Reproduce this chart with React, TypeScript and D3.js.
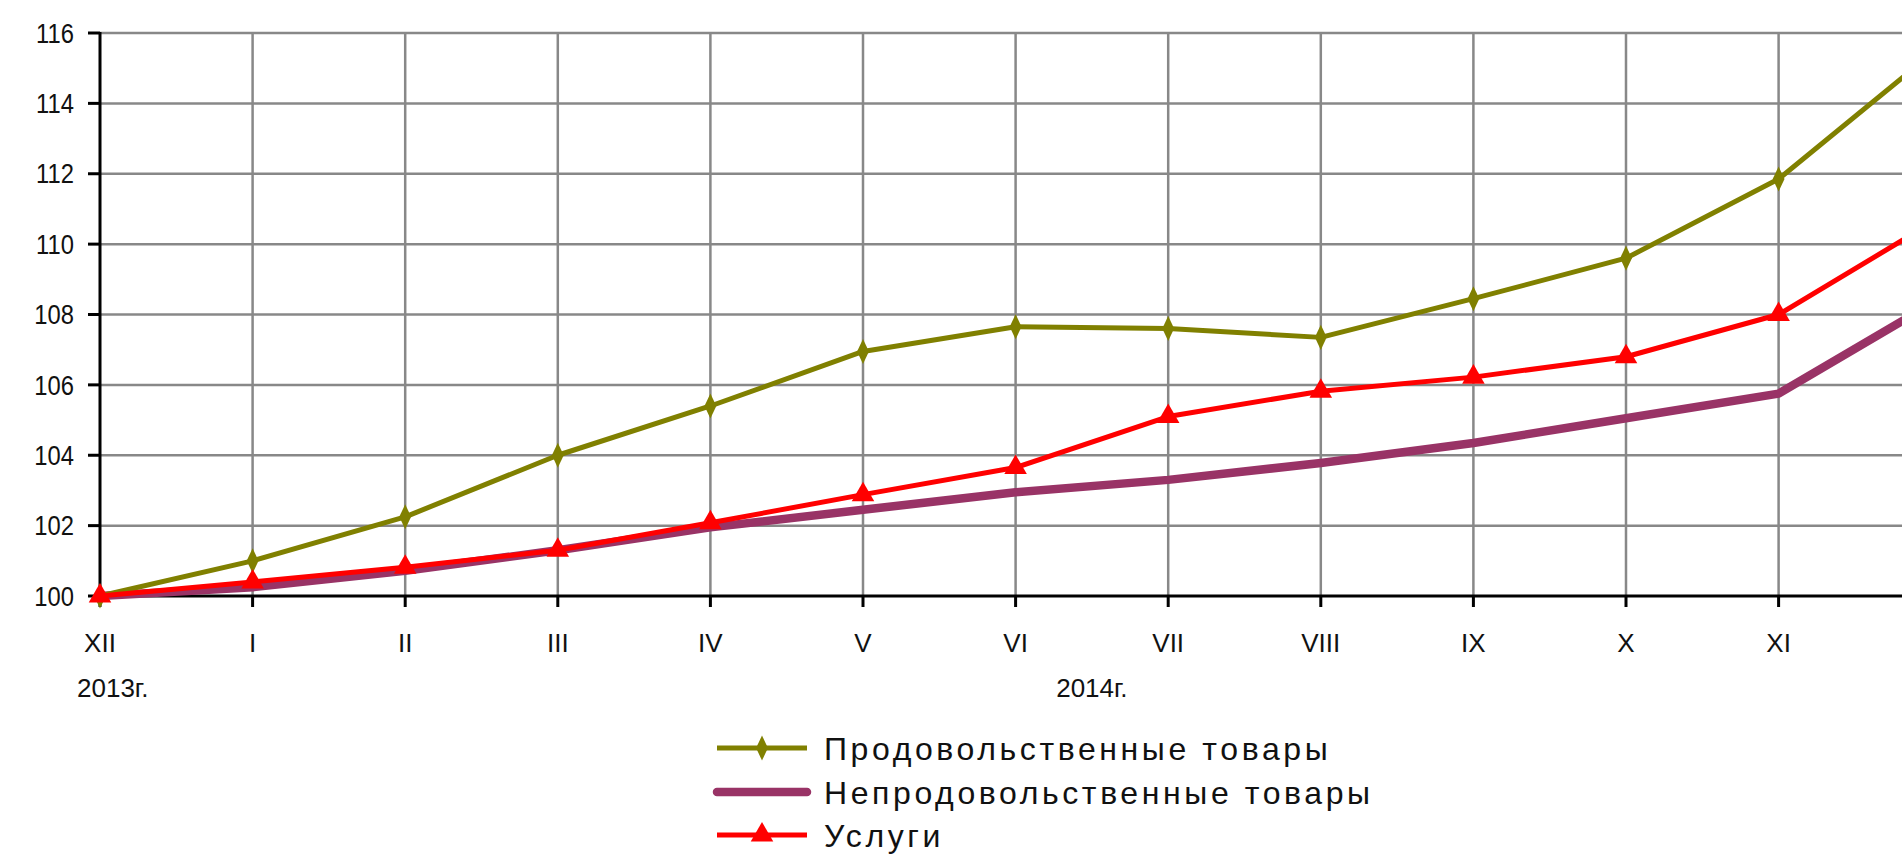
import React from "react";
import * as d3 from "d3";

const months = ["XII", "I", "II", "III", "IV", "V", "VI", "VII", "VIII", "IX", "X", "XI", "XII"];
const foodValues = [100, 101.0, 102.25, 104.0, 105.4, 106.95, 107.65, 107.6, 107.35, 108.45, 109.6, 111.85, 115.4];
const nonFoodValues = [100, 100.25, 100.72, 101.3, 101.95, 102.45, 102.95, 103.3, 103.78, 104.35, 105.05, 105.75, 108.3];
const servicesValues = [100, 100.4, 100.82, 101.3, 102.08, 102.88, 103.65, 105.1, 105.82, 106.22, 106.8, 108.0, 110.6];
const yTicks = [100, 102, 104, 106, 108, 110, 112, 114, 116];
const yearLabels = ["2013г.", "2014г."];
const seriesNames = ["Продовольственные товары", "Непродовольственные товары", "Услуги"];

const W = 1902;
const H = 858;
const FONT = "'Liberation Sans', Arial, sans-serif";

const FOOD = "#808000";
const NONFOOD = "#993366";
const SERV = "#ff0000";

export default function App() {
  const x = d3.scaleLinear().domain([0, 12]).range([100, 100 + 12 * 152.6]);
  const y = d3.scaleLinear().domain([100, 116]).range([596, 33]);
  const idx = months.map((_, i) => i);

  const line = d3
    .line<number>()
    .x((_, i) => x(i))
    .y((v) => y(v));

  const diamond = d3.symbol().type(d3.symbolDiamond).size(150)() as string;
  const triangle = d3.symbol().type(d3.symbolTriangle).size(220)() as string;

  const x0 = x(0);
  const legendRows = [748, 792, 835];

  return (
    <svg
      width={W}
      height={H}
      style={{ position: "absolute", left: 0, top: 0, background: "#fff" }}
      fontFamily={FONT}
    >
      <rect width={W} height={H} fill="#fff" />
      {/* horizontal grid */}
      {yTicks.slice(1).map((t) => (
        <line key={"hg" + t} x1={x0} x2={W} y1={y(t)} y2={y(t)} stroke="#888" strokeWidth={2.5} />
      ))}
      {/* vertical grid */}
      {idx.slice(1).map((i) => (
        <line key={"vg" + i} x1={x(i)} x2={x(i)} y1={y(116)} y2={y(100)} stroke="#888" strokeWidth={2.5} />
      ))}
      {/* axes */}
      <line x1={x0} x2={x0} y1={y(116) - 1} y2={y(100)} stroke="#000" strokeWidth={3} />
      <line x1={x0} x2={W} y1={y(100)} y2={y(100)} stroke="#000" strokeWidth={3} />
      {yTicks.map((t) => (
        <line key={"yt" + t} x1={x0 - 12} x2={x0} y1={y(t)} y2={y(t)} stroke="#000" strokeWidth={3} />
      ))}
      {idx.map((i) => (
        <line key={"xt" + i} x1={x(i)} x2={x(i)} y1={y(100)} y2={y(100) + 11} stroke="#000" strokeWidth={3} />
      ))}
      {/* y labels */}
      {yTicks.map((t) => (
        <text key={"yl" + t} x={74} y={y(t)} dy="0.36em" textAnchor="end" fontSize={27} fill="#111"
          transform={`translate(${74 * 0.12},0) scale(0.88,1)`}>
          {t}
        </text>
      ))}
      {/* x labels (those inside the visible area) */}
      {idx.filter((i) => x(i) + 20 < W).map((i) => (
        <text key={"xl" + i} x={x(i)} y={643} dy="0.36em" textAnchor="middle" fontSize={26} fill="#111">
          {months[i]}
        </text>
      ))}
      <text x={77} y={688} dy="0.36em" fontSize={26} fill="#111">{yearLabels[0]}</text>
      <text x={x(6.5)} y={688} dy="0.36em" textAnchor="middle" fontSize={26} fill="#111">{yearLabels[1]}</text>

      {/* series */}
      <path d={line(nonFoodValues) as string} fill="none" stroke={NONFOOD} strokeWidth={8.5} strokeLinejoin="round" />
      <path d={line(foodValues) as string} fill="none" stroke={FOOD} strokeWidth={5} strokeLinejoin="round" />
      {foodValues.map((v, i) => (
        <path key={"fm" + i} d={diamond} transform={`translate(${x(i)},${y(v)}) scale(0.9,1.1)`} fill={FOOD} />
      ))}
      <path d={line(servicesValues) as string} fill="none" stroke={SERV} strokeWidth={5} strokeLinejoin="round" />
      {servicesValues.map((v, i) => (
        <path key={"sm" + i} d={triangle} transform={`translate(${x(i)},${y(v)})`} fill={SERV} />
      ))}

      {/* legend */}
      <g>
        <line x1={717} x2={807} y1={legendRows[0]} y2={legendRows[0]} stroke={FOOD} strokeWidth={5} />
        <path d={diamond} transform={`translate(762,${legendRows[0]}) scale(0.9,1.1)`} fill={FOOD} />
        <line x1={717} x2={807} y1={legendRows[1]} y2={legendRows[1]} stroke={NONFOOD} strokeWidth={8.5} strokeLinecap="round" />
        <line x1={717} x2={807} y1={legendRows[2]} y2={legendRows[2]} stroke={SERV} strokeWidth={5} />
        <path d={triangle} transform={`translate(762,${legendRows[2]})`} fill={SERV} />
        {seriesNames.map((s, k) => (
          <text key={"lg" + k} x={824} y={legendRows[k]} dy="0.36em" fontSize={32} letterSpacing={3.6} fill="#111">
            {s}
          </text>
        ))}
      </g>
    </svg>
  );
}
